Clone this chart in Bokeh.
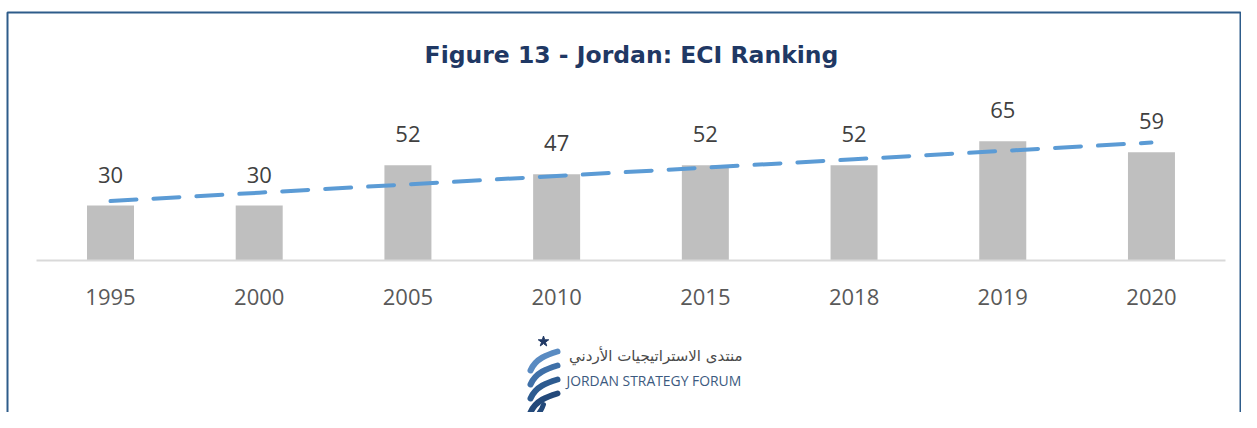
import numpy as np
from bokeh.plotting import figure
from bokeh.models import (Range1d, FixedTicker, LinearAxis, ColumnDataSource,
                          Label, BoxAnnotation)
from bokeh.embed import file_html
from bokeh.resources import INLINE
from bokeh.core.properties import value

# ---------------- data ----------------
years = ["1995", "2000", "2005", "2010", "2015", "2018", "2019", "2020"]
ranking = [30, 30, 52, 47, 52, 52, 65, 59]
title_text = "Figure 13 - Jordan: ECI Ranking"
logo_ar = "منتدى الاستراتيجيات الأردني"
logo_en = "JORDAN STRATEGY FORUM"

# ---------------- layout constants ----------------
W, H = 1241, 412
px_per_cat = 148.71          # pixels between category centres
px_per_unit = 55.0 / 30.0    # pixels per ranking unit
x0_px = 110                  # canvas x of the first category centre
base_px = 260                # canvas y of the zero line

x_start = -x0_px / px_per_cat
x_end = x_start + W / px_per_cat
y_end = base_px / px_per_unit
y_start = y_end - H / px_per_unit


def dx(cx):
    """canvas x (px) -> data x"""
    return x_start + cx / px_per_cat


def dy(cy):
    """canvas y (px, from top) -> data y"""
    return (base_px - cy) / px_per_unit


idx = list(range(len(years)))
n = np.arange(1, len(years) + 1)
coef = np.polyfit(n, ranking, 1)        # linear trendline (as in Excel)
trend = [float(v) for v in np.polyval(coef, n)]

src = ColumnDataSource(dict(x=idx, v=ranking, lbl=[str(v) for v in ranking],
                            trend=trend))

p = figure(width=W, height=H, output_backend="svg", toolbar_location=None,
           x_range=Range1d(x_start, x_end), y_range=Range1d(y_start, y_end),
           x_axis_type=None, y_axis_type=None, min_border=0)
p.outline_line_color = None
p.background_fill_color = "white"
p.border_fill_color = "white"

# bars
p.vbar(x="x", top="v", bottom=0, width=47 / px_per_cat, source=src,
       fill_color="#BFBFBF", line_color=None)

# trendline
p.line(x="x", y="trend", source=src, line_color="#5B9BD5", line_width=4,
       line_dash="26 17", line_cap="round")

# value labels
p.text(x="x", y="v", text="lbl", source=src, text_align="center",
       text_baseline="alphabetic", y_offset=-31,
       text_font=value("Open Sans"), text_font_size="22px",
       text_color="#404040")

# category axis drawn at zero
xaxis = LinearAxis(fixed_location=0, ticker=FixedTicker(ticks=idx),
                   major_label_overrides={i: y for i, y in zip(idx, years)},
                   bounds=(-0.5, len(years) - 0.5))
xaxis.axis_line_color = "#D9D9D9"
xaxis.axis_line_width = 2
xaxis.major_tick_line_color = None
xaxis.minor_tick_line_color = None
xaxis.major_label_text_font = "Open Sans"
xaxis.major_label_text_font_size = "22px"
xaxis.major_label_text_color = "#595959"
xaxis.major_label_standoff = 22
p.add_layout(xaxis, "below")

# title
p.add_layout(Label(x=dx(631), y=dy(54.6), text=title_text,
                   text_align="center", text_baseline="alphabetic",
                   text_font="DejaVu Sans", text_font_style="bold",
                   text_font_size="23.5px", text_color="#1F3864"))

# frame border (bottom edge lies outside the page)
p.add_layout(BoxAnnotation(left=dx(7), right=dx(1240), top=dy(12),
                           bottom=dy(700), fill_alpha=0, line_alpha=1,
                           line_color="#2E5C8A", line_width=2))

# ---------------- logo ----------------
ribbon_cols = ["#5A8BC2", "#3F70A8", "#2D5B90", "#23497A"]
for k, c in enumerate(ribbon_cols):
    oy = 14 * k
    p.bezier(x0=[dx(530)], y0=[dy(370 + oy)], x1=[dx(557)], y1=[dy(351 + oy)],
             cx0=[dx(535)], cy0=[dy(358 + oy)], cx1=[dx(547)], cy1=[dy(354 + oy)],
             line_color=c, line_width=6, line_cap="round")
p.bezier(x0=[dx(543)], y0=[dy(404)], x1=[dx(533)], y1=[dy(418)],
         cx0=[dx(541)], cy0=[dy(410)], cx1=[dx(537)], cy1=[dy(415)],
         line_color="#23497A", line_width=5, line_cap="round")
p.scatter(x=[dx(543)], y=[dy(341)], marker="star", size=11,
          fill_color="#1F3864", line_color="#1F3864")

p.add_layout(Label(x=dx(742), y=dy(355), text=logo_ar, text_align="right",
                   text_baseline="alphabetic", text_font="DejaVu Sans",
                   text_font_size="15px", text_color="#4A4A4A"))
p.add_layout(Label(x=dx(566), y=dy(379.5), text=logo_en, text_align="left",
                   text_baseline="alphabetic", text_font="Open Sans",
                   text_font_size="13.9px", text_color="#3C5A80"))

open("out.html", "w").write(file_html(p, INLINE))
